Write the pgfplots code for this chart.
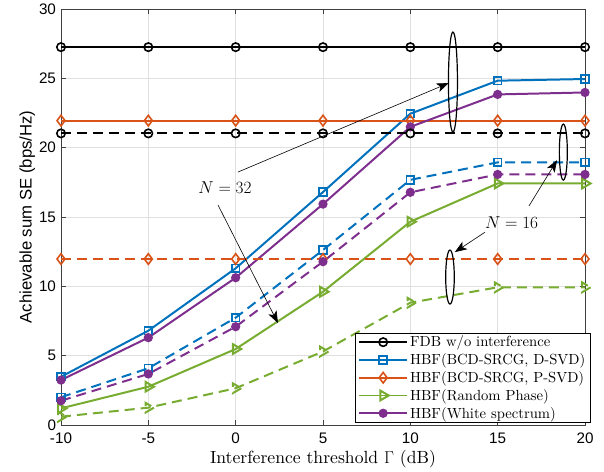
\documentclass[border=0pt]{standalone}
\usepackage{fontspec}
\setmainfont{lmroman10-regular.otf}[ItalicFont=lmroman10-italic.otf, BoldFont=lmroman10-bold.otf]
\newfontfamily\lsans{Liberation Sans}
\usepackage{pgfplots}
\pgfplotsset{compat=1.18}
\usetikzlibrary{calc,arrows.meta}
\definecolor{mblue}{rgb}{0,0.447,0.741}
\definecolor{morange}{rgb}{0.85,0.325,0.098}
\definecolor{mgreen}{rgb}{0.466,0.674,0.188}
\definecolor{mpurple}{rgb}{0.494,0.184,0.556}
\begin{document}
\begin{tikzpicture}
\begin{axis}[name=ax, scale only axis, width=524bp, height=416bp,
  xmin=-10, xmax=20, ymin=0, ymax=30,
  xtick={-10,-5,0,5,10,15,20}, xticklabels={-10,-5,0,5,10,15,20},
  ytick={0,5,10,15,20,25,30}, yticklabels={0,5,10,15,20,25,30},
  grid=major, grid style={black!12, line width=0.7pt},
  axis line style={black!75, line width=0.7pt},
  tick style={black!75, line width=0.7pt}, major tick length=5bp,
  tick align=inside,
  ticklabel style={font=\lsans\fontsize{15.3}{15.3}\selectfont},
  xticklabel style={yshift=-4.5bp},
  yticklabel style={xshift=-1.5bp},
  xlabel={Interference threshold $\Gamma$ (dB)},
  xlabel style={font=\fontsize{17.7}{18}\selectfont, yshift=0bp},
  ylabel={\lsans Achievable sum SE (bps/Hz)},
  ylabel style={font=\fontsize{16.8}{17}\selectfont, yshift=-3bp},
  legend style={at={(1.011,0.005)}, anchor=south east, draw=black, line width=0.8pt,
    font=\fontsize{14.7}{15}\selectfont, row sep=2.3bp, inner xsep=3bp, inner ysep=1.5bp, fill=white,
    nodes={inner ysep=1.5bp}},
  legend cell align=left,
  legend image code/.code={\draw[mark repeat=2,mark phase=2] plot coordinates {(0bp,0bp)(24bp,0bp)(48bp,0bp)};},
  every axis plot/.append style={line width=2pt, mark options={solid, line width=1.6pt}},
]
% N = 32 (solid)
\addplot[black, mark=o, mark size=4.2bp] coordinates {(-10,27.25)(-5,27.25)(0,27.25)(5,27.25)(10,27.25)(15,27.25)(20,27.25)};
\addlegendentry{FDB w/o interference}
\addplot[mblue, mark=square, mark size=3.9bp] coordinates {(-10,3.48)(-5,6.8)(0,11.3)(5,16.8)(10,22.45)(15,24.83)(20,24.95)};
\addlegendentry{HBF(BCD-SRCG, D-SVD)}
\addplot[morange, mark=diamond, mark size=5.3bp] coordinates {(-10,21.95)(-5,21.95)(0,21.95)(5,21.95)(10,21.95)(15,21.95)(20,21.95)};
\addlegendentry{HBF(BCD-SRCG, P-SVD)}
\addplot[mgreen, mark=triangle, mark options={rotate=-90}, mark size=5.6bp] coordinates {(-10,1.2)(-5,2.76)(0,5.48)(5,9.61)(10,14.66)(15,17.42)(20,17.42)};
\addlegendentry{HBF(Random Phase)}
\addplot[mpurple, mark=*, mark size=3.8bp] coordinates {(-10,3.24)(-5,6.3)(0,10.62)(5,15.93)(10,21.5)(15,23.84)(20,23.98)};
\addlegendentry{HBF(White spectrum)}
% N = 16 (dashed)
\addplot[black, dash pattern=on 10bp off 6bp, mark=o, mark size=4.2bp, forget plot] coordinates {(-10,21.03)(-5,21.03)(0,21.03)(5,21.03)(10,21.03)(15,21.03)(20,21.03)};
\addplot[mblue, dash pattern=on 10bp off 6bp, mark=square, mark size=3.9bp, forget plot] coordinates {(-10,2.0)(-5,4.09)(0,7.74)(5,12.62)(10,17.68)(15,18.94)(20,18.94)};
\addplot[morange, dash pattern=on 10bp off 6bp, mark=diamond, mark size=5.3bp, forget plot] coordinates {(-10,11.97)(-5,11.97)(0,11.97)(5,11.97)(10,11.97)(15,11.97)(20,11.97)};
\addplot[mgreen, dash pattern=on 10bp off 6bp, mark=triangle, mark options={rotate=-90}, mark size=5.6bp, forget plot] coordinates {(-10,0.6)(-5,1.25)(0,2.65)(5,5.3)(10,8.82)(15,9.93)(20,9.93)};
\addplot[mpurple, dash pattern=on 10bp off 6bp, mark=*, mark size=3.8bp, forget plot] coordinates {(-10,1.75)(-5,3.68)(0,7.09)(5,11.78)(10,16.78)(15,18.07)(20,18.07)};
% annotations
\draw[black, line width=1.2pt] (axis cs:12.44,24.73) ellipse [x radius=4.5bp, y radius=50bp];
\draw[black, line width=1.2pt] (axis cs:18.76,19.68) ellipse [x radius=4bp, y radius=28bp];
\draw[black, line width=1.2pt] (axis cs:12.27,10.67) ellipse [x radius=4.3bp, y radius=27bp];
\draw[-{Stealth[length=12bp,width=9bp,inset=3bp]}, line width=0.6pt] (axis cs:0.13,18.24) -- (axis cs:12.2,24.66);
\draw[-{Stealth[length=12bp,width=9bp,inset=3bp]}, line width=0.6pt] (axis cs:-1.01,15.86) -- (axis cs:2.42,7.35);
\draw[-{Stealth[length=12bp,width=9bp,inset=3bp]}, line width=0.6pt] (axis cs:14.27,13.9) -- (axis cs:12.55,12.47);
\draw[-{Stealth[length=12bp,width=9bp,inset=3bp]}, line width=0.6pt] (axis cs:16.79,15.79) -- (axis cs:18.4,19.1);
\node[font=\fontsize{16.2}{17}\selectfont] at (axis cs:-0.61,17.09) {$N=32$};
\node[font=\fontsize{16.2}{17}\selectfont] at (axis cs:15.8,14.56) {$N=16$};
\end{axis}
\pgfresetboundingbox
\path ($(ax.south west)+(-61bp,-47bp)$) rectangle ($(ax.north east)+(19bp,9bp)$);
\end{tikzpicture}
\end{document}
